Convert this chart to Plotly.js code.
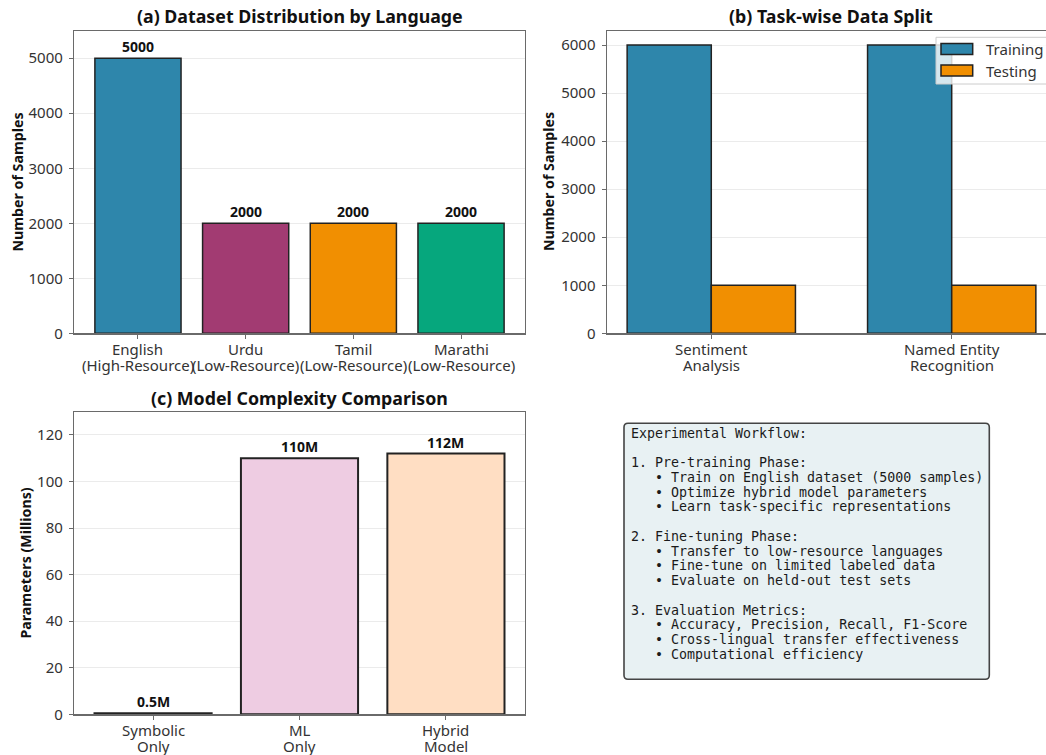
<!DOCTYPE html>
<html>
<head>
<meta charset="utf-8">
<script src="https://cdn.plot.ly/plotly-3.0.1.min.js"></script>
<style>
  html, body { margin: 0; padding: 0; overflow: hidden; background: #fff; }
  #chart { width: 1070px; height: 755px; }
</style>
</head>
<body>
<div id="chart"></div>
<script>
// ---- data ----
const languages = ['English', 'Urdu', 'Tamil', 'Marathi'];
const languageTicks = [['English', '(High-Resource)'], ['Urdu', '(Low-Resource)'], ['Tamil', '(Low-Resource)'], ['Marathi', '(Low-Resource)']];
const languageSamples = [5000, 2000, 2000, 2000];
const languageColors = ['#2E86AB', '#A23B72', '#F18F01', '#06A77D'];

const tasks = ['Sentiment', 'NER'];
const taskTicks = [['Sentiment', 'Analysis'], ['Named Entity', 'Recognition']];
const trainingSamples = [6000, 6000];
const testingSamples = [1000, 1000];
const splitNames = ['Training', 'Testing'];
const splitColors = ['#2E86AB', '#F18F01'];

const models = ['Symbolic', 'ML', 'Hybrid'];
const modelTicks = [['Symbolic', 'Only'], ['ML', 'Only'], ['Hybrid', 'Model']];
const modelParams = [0.5, 110, 112];
const modelColors = ['#D3E6EF', '#EECCE2', '#FFDEC3'];

const workflowLines = [
  'Experimental Workflow:',
  '',
  '1. Pre-training Phase:',
  '   • Train on English dataset (5000 samples)',
  '   • Optimize hybrid model parameters',
  '   • Learn task-specific representations',
  '',
  '2. Fine-tuning Phase:',
  '   • Transfer to low-resource languages',
  '   • Fine-tune on limited labeled data',
  '   • Evaluate on held-out test sets',
  '',
  '3. Evaluation Metrics:',
  '   • Accuracy, Precision, Recall, F1-Score',
  '   • Cross-lingual transfer effectiveness',
  '   • Computational efficiency'
];

// ---- page geometry helpers (pixel -> paper fraction) ----
const W = 1070, H = 755;
const px = x => x / W;
const py = y => 1 - y / H;

const FONT = 'Noto Sans, Open Sans, sans-serif';
const MONO = 'DejaVu Sans Mono, monospace';
const EDGE = '#222222';
const SPINE = '#6a6a6a';
const GRID = '#ebebeb';

const traces = [
  {
    type: 'bar', x: languages, y: languageSamples, width: 0.8,
    marker: { color: languageColors, line: { color: EDGE, width: 1.5 } },
    xaxis: 'x', yaxis: 'y', showlegend: false
  },
  {
    type: 'bar', name: splitNames[0], x: tasks, y: trainingSamples, width: 0.35, offset: -0.35,
    marker: { color: splitColors[0], line: { color: EDGE, width: 1.5 } },
    xaxis: 'x2', yaxis: 'y2', showlegend: false
  },
  {
    type: 'bar', name: splitNames[1], x: tasks, y: testingSamples, width: 0.35, offset: 0,
    marker: { color: splitColors[1], line: { color: EDGE, width: 1.5 } },
    xaxis: 'x2', yaxis: 'y2', showlegend: false
  },
  {
    type: 'bar', x: models, y: modelParams, width: 0.8,
    marker: { color: modelColors, line: { color: EDGE, width: 2 } },
    xaxis: 'x3', yaxis: 'y3', showlegend: false
  }
];

const tickFont = { family: FONT, size: 15, color: '#333' };
const xBase = {
  type: 'category', showgrid: false, zeroline: false,
  showline: true, mirror: true, linecolor: SPINE, linewidth: 1.2,
  ticks: 'outside', ticklen: 4, tickcolor: SPINE, showticklabels: false, fixedrange: true
};
const yBase = {
  showgrid: true, gridcolor: GRID, gridwidth: 1, zeroline: false,
  showline: true, mirror: true, linecolor: SPINE, linewidth: 1.2,
  ticks: 'outside', ticklen: 4, tickcolor: SPINE, tickfont: tickFont,
  ticklabelstandoff: 3, fixedrange: true
};

const annotations = [];

// two-line category labels under each x axis (tight line spacing)
function categoryLabels(axis, cats, ticks, axisBottom) {
  cats.forEach((c, i) => ticks[i].forEach((line, j) => annotations.push({
    xref: axis, yref: 'paper', x: c, y: py(axisBottom + 15.5 + j * 16.3),
    xanchor: 'center', yanchor: 'middle', borderpad: 0, text: line, showarrow: false, font: tickFont
  })));
}
categoryLabels('x', languages, languageTicks, 333.3);
categoryLabels('x2', tasks, taskTicks, 333.3);
categoryLabels('x3', models, modelTicks, 714.3);

// value labels above the bars
const valueFont = { family: FONT, size: 14, color: '#111', weight: 'bold' };
languages.forEach((c, i) => annotations.push({
  xref: 'x', yref: 'y', x: c, y: languageSamples[i], yanchor: 'bottom', yshift: 0,
  text: String(languageSamples[i]), showarrow: false, font: valueFont
}));
models.forEach((c, i) => annotations.push({
  xref: 'x3', yref: 'y3', x: c, y: modelParams[i], yanchor: 'bottom', yshift: 0,
  text: modelParams[i] + 'M', showarrow: false, font: valueFont
}));

// panel titles
const titleFont = { family: FONT, size: 17.8, color: '#111', weight: 'bold' };
[
  ['(a) Dataset Distribution by Language', 299.5, 16.5],
  ['(b) Task-wise Data Split', 831, 16.5],
  ['(c) Model Complexity Comparison', 299.5, 398]
].forEach(([t, x, y]) => annotations.push({
  xref: 'paper', yref: 'paper', x: px(x), y: py(y), xanchor: 'center', yanchor: 'middle',
  text: t, showarrow: false, font: titleFont
}));

// y-axis titles
const axisTitleFont = { family: FONT, size: 14.2, color: '#111', weight: 'bold' };
[
  ['Number of Samples', 16.5, 182],
  ['Number of Samples', 548, 182],
  ['Parameters (Millions)', 24.5, 563]
].forEach(([t, x, y]) => annotations.push({
  xref: 'paper', yref: 'paper', x: px(x), y: py(y), xanchor: 'center', yanchor: 'middle',
  text: t, textangle: -90, showarrow: false, font: axisTitleFont
}));

// legend for panel (b)
const shapes = [
  { type: 'rect', xref: 'paper', yref: 'paper', x0: px(936), x1: px(1068), y0: py(84), y1: py(37.3),
    fillcolor: 'rgba(255,255,255,0.8)', line: { color: '#cccccc', width: 1 } }
];
const legendRows = [49, 70.5];
splitNames.forEach((name, i) => {
  shapes.push({ type: 'rect', xref: 'paper', yref: 'paper',
    x0: px(941), x1: px(972.7), y0: py(legendRows[i] + 5.5), y1: py(legendRows[i] - 5.5),
    fillcolor: splitColors[i], line: { color: EDGE, width: 1.5 } });
  annotations.push({ xref: 'paper', yref: 'paper', x: px(984), y: py(legendRows[i]),
    xanchor: 'left', yanchor: 'middle', text: name, showarrow: false,
    font: { family: FONT, size: 15, color: '#333' } });
});

// workflow text box
const bx0 = 624, bx1 = 989.3, by0 = 423.3, by1 = 679.3, r = 4;
const P = (x, y) => `${px(x)},${py(y)}`;
const boxPath = [
  `M ${P(bx0 + r, by0)}`, `L ${P(bx1 - r, by0)}`, `Q ${P(bx1, by0)} ${P(bx1, by0 + r)}`,
  `L ${P(bx1, by1 - r)}`, `Q ${P(bx1, by1)} ${P(bx1 - r, by1)}`,
  `L ${P(bx0 + r, by1)}`, `Q ${P(bx0, by1)} ${P(bx0, by1 - r)}`,
  `L ${P(bx0, by0 + r)}`, `Q ${P(bx0, by0)} ${P(bx0 + r, by0)}`, 'Z'
].join(' ');
shapes.push({ type: 'path', xref: 'paper', yref: 'paper', path: boxPath,
  fillcolor: '#E8F1F3', line: { color: '#444444', width: 1.6 }, layer: 'below' });

const lineTop = 433.3, linePitch = 14.73;
workflowLines.forEach((t, i) => {
  if (!t) return;
  annotations.push({
    xref: 'paper', yref: 'paper', x: px(628.5), y: py(lineTop + i * linePitch),
    xanchor: 'left', yanchor: 'middle', showarrow: false,
    text: t.replace(/ /g, '\u00a0'),
    font: { family: MONO, size: 13.3, color: '#1a1a1a' }
  });
});

const layout = {
  width: W, height: H,
  margin: { l: 0, r: 0, t: 0, b: 0 },
  paper_bgcolor: '#ffffff', plot_bgcolor: '#ffffff',
  barmode: 'overlay',
  showlegend: false,
  font: { family: FONT, color: '#333' },
  xaxis: Object.assign({}, xBase, { domain: [px(74), px(525)], anchor: 'y', range: [-0.594, 3.594],
    tickvals: languages }),
  yaxis: Object.assign({}, yBase, { domain: [py(333.3), py(30.7)], anchor: 'x', range: [0, 5500], dtick: 1000 }),
  xaxis2: Object.assign({}, xBase, { domain: [px(606.7), px(1056.3)], anchor: 'y2', range: [-0.435, 1.435],
    tickvals: tasks }),
  yaxis2: Object.assign({}, yBase, { domain: [py(333.3), py(30.7)], anchor: 'x2', range: [0, 6300], dtick: 1000 }),
  xaxis3: Object.assign({}, xBase, { domain: [px(74), px(525)], anchor: 'y3', range: [-0.54, 2.54],
    tickvals: models }),
  yaxis3: Object.assign({}, yBase, { domain: [py(714.3), py(411.7)], anchor: 'x3', range: [0, 130], dtick: 20 }),
  annotations: annotations,
  shapes: shapes
};

Plotly.newPlot('chart', traces, layout, { displayModeBar: false, staticPlot: true });
</script>
</body>
</html>
